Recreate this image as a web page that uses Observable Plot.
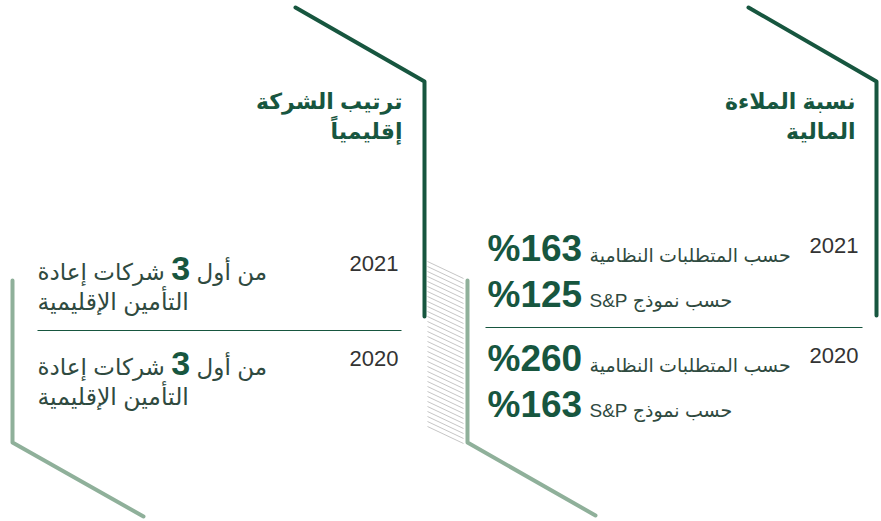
<!DOCTYPE html>
<html><head><meta charset="utf-8">
<script src="https://cdn.jsdelivr.net/npm/d3@7"></script>
<script src="https://cdn.jsdelivr.net/npm/@observablehq/plot@0.6"></script>
<style>body{margin:0;background:#fff;overflow:hidden}</style>
</head><body><div id="chart"></div>
<script>
// ---- data ----
const years = ["2021", "2020"];
const rankingTitle = "ترتيب الشركة\nإقليمياً";
const solvencyTitle = "نسبة الملاءة\nالمالية";
const rankingPosition = [3, 3];
const rankingBefore = "من أول";
const rankingAfter = "شركات إعادة";
const rankingLine2 = "التأمين الإقليمية";
const regulatoryLabel = "حسب المتطلبات النظامية";
const spLabel = "حسب نموذج S&P";
const regulatoryRatio = [163, 260];
const spRatio = [125, 163];

// ---- layout ----
const DARK = "#17563f", LIGHT = "#8fb09a", TEXT = "#2f4a40", YEAR = "#333";
const FONT = "Liberation Sans, DejaVu Sans, sans-serif";
const leftRowY = [263, 358];   // year centre
const rightRowY = [245, 355];

const frameDark = [
  {id: "l", x: 295, y: 7}, {id: "l", x: 424, y: 81}, {id: "l", x: 424, y: 316},
  {id: "r", x: 748, y: 7}, {id: "r", x: 876, y: 81}, {id: "r", x: 876, y: 315}
];
const frameLight = [
  {id: "l", x: 12, y: 280}, {id: "l", x: 12, y: 442}, {id: "l", x: 143, y: 516},
  {id: "r", x: 467, y: 280}, {id: "r", x: 467, y: 442}, {id: "r", x: 595, y: 515}
];
const hatch = d3.range(261, 431, 5);

const leftRows = years.map((yr, i) => ({year: yr, y: leftRowY[i],
  line1: `${rankingBefore} ${rankingPosition[i]} ${rankingAfter}`, line2: rankingLine2}));
const rightRows = years.map((yr, i) => ({year: yr, y: rightRowY[i],
  reg: "%" + regulatoryRatio[i], sp: "%" + spRatio[i]}));

const chart = Plot.plot({
  width: 881, height: 521, margin: 0,
  x: {domain: [0, 881], range: [0, 881], axis: null},
  y: {domain: [0, 521], range: [0, 521], axis: null},
  style: {background: "white", fontFamily: FONT},
  marks: [
    Plot.link(hatch, {x1: () => 427, y1: d => d, x2: () => 463, y2: d => d + 17, stroke: "#c6c6c6", strokeWidth: 1}),
    Plot.line(frameLight, {x: "x", y: "y", z: "id", stroke: LIGHT, strokeWidth: 4, strokeLinecap: "round", strokeLinejoin: "round"}),
    Plot.line(frameDark, {x: "x", y: "y", z: "id", stroke: DARK, strokeWidth: 4, strokeLinecap: "round", strokeLinejoin: "round"}),
    // titles
    Plot.text([rankingTitle], {x: () => 402, y: () => 114, text: d => d, textAnchor: "end", fontSize: 22, fontWeight: "bold", fill: DARK, lineHeight: 1.36}),
    Plot.text([solvencyTitle], {x: () => 855, y: () => 114, text: d => d, textAnchor: "end", fontSize: 22, fontWeight: "bold", fill: DARK, lineHeight: 1.36}),
    // separators
    Plot.link([0], {x1: () => 37, x2: () => 401, y1: () => 330, y2: () => 330, stroke: DARK, strokeWidth: 1}),
    Plot.link([0], {x1: () => 485, x2: () => 862, y1: () => 327, y2: () => 327, stroke: DARK, strokeWidth: 1}),
    // left rows
    Plot.text(leftRows, {x: () => 398, y: "y", text: "year", textAnchor: "end", fontSize: 22, fill: YEAR}),
    Plot.text(leftRows, {x: () => 37, y: d => d.y + 9, text: "line1", textAnchor: "start", fontSize: 23, fill: TEXT}),
    Plot.text(leftRows, {x: () => 37, y: d => d.y + 39, text: "line2", textAnchor: "start", fontSize: 23.5, fill: TEXT}),
    // right rows
    Plot.text(rightRows, {x: () => 858, y: "y", text: "year", textAnchor: "end", fontSize: 22, fill: YEAR}),
    Plot.text(rightRows, {x: () => 487, y: d => d.y + 4, text: "reg", textAnchor: "start", fontSize: 37, fontWeight: "bold", fill: DARK}),
    Plot.text(rightRows, {x: () => 487, y: d => d.y + 50, text: "sp", textAnchor: "start", fontSize: 37, fontWeight: "bold", fill: DARK}),
    Plot.text(rightRows, {x: () => 589, y: d => d.y + 10, text: () => regulatoryLabel, textAnchor: "start", fontSize: 19, fill: TEXT}),
    Plot.text(rightRows, {x: () => 589, y: d => d.y + 55, text: () => "\u202B" + spLabel + "\u202C", textAnchor: "start", fontSize: 19, fill: TEXT})
  ]
});

// bold the ranking number inside the sentence
d3.select(chart).selectAll("text").each(function () {
  const t = this.textContent;
  const m = t.match(/^(.*?) (\d+) (.*)$/);
  if (!m || !t.startsWith(rankingBefore)) return;
  const sel = d3.select(this);
  sel.text(null);
  sel.append("tspan").text(m[1] + " ");
  sel.append("tspan").attr("font-size", 34).attr("font-weight", "bold").attr("fill", DARK).text(m[2]);
  sel.append("tspan").text(" " + m[3]);
});

document.getElementById("chart").append(chart);
</script>
</body></html>
